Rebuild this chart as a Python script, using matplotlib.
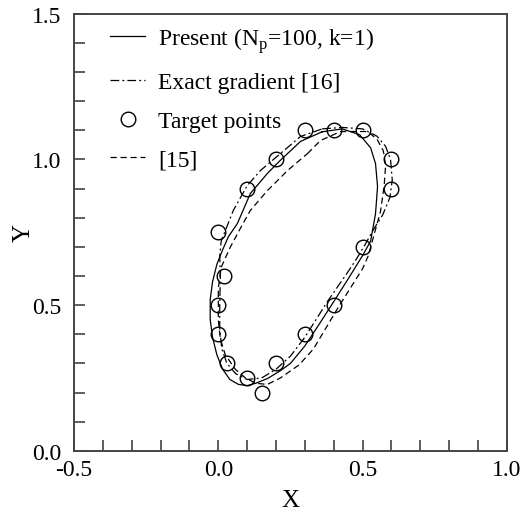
import matplotlib
matplotlib.use("Agg")
import matplotlib.pyplot as plt
from matplotlib.ticker import MultipleLocator, FormatStrFormatter

plt.rcParams['font.family'] = ['Liberation Serif', 'DejaVu Serif']
plt.rcParams['mathtext.fontset'] = 'custom'
plt.rcParams['mathtext.rm'] = 'Liberation Serif'
plt.rcParams['axes.unicode_minus'] = False

# target points
target_x = [0.3, 0.4, 0.5, 0.6, 0.6, 0.2, 0.1, 0.0, 0.02, 0.0, 0.0, 0.03, 0.1, 0.15, 0.2, 0.3, 0.4, 0.5]
target_y = [1.1, 1.1, 1.1, 1.0, 0.9, 1.0, 0.9, 0.75, 0.6, 0.5, 0.4, 0.3, 0.25, 0.2, 0.3, 0.4, 0.5, 0.7]

# present (Np=100, k=1)
present_x = [0.36, 0.43, 0.49, 0.528, 0.545, 0.552, 0.545, 0.528, 0.50, 0.45, 0.40, 0.35, 0.30, 0.25,
             0.215, 0.17, 0.13, 0.10, 0.07, 0.04, 0.015, -0.005, -0.02, -0.028, -0.028, -0.02, -0.005,
             0.015, 0.035, 0.066, 0.09, 0.111, 0.17, 0.215, 0.285, 0.36]
present_y = [1.095, 1.105, 1.085, 1.04, 0.986, 0.907, 0.814, 0.72, 0.67, 0.59, 0.512, 0.435, 0.36, 0.30,
             0.275, 0.248, 0.232, 0.224, 0.228, 0.245, 0.28, 0.33, 0.39, 0.45, 0.52, 0.58, 0.64,
             0.69, 0.735, 0.78, 0.835, 0.883, 0.952, 0.997, 1.062, 1.095]

# exact gradient [16]
exact_x = [0.36, 0.43, 0.50, 0.55, 0.58, 0.597, 0.603, 0.595, 0.57, 0.538, 0.51, 0.48, 0.45, 0.38, 0.30,
           0.25, 0.20, 0.15, 0.10, 0.06, 0.03, 0.012, 0.005, 0.005, 0.007, 0.005, 0.01, 0.052, 0.10,
           0.146, 0.215, 0.285, 0.36]
exact_y = [1.105, 1.11, 1.105, 1.08, 1.045, 1.0, 0.93, 0.87, 0.81, 0.76, 0.71, 0.66, 0.615, 0.515, 0.39,
           0.325, 0.28, 0.25, 0.245, 0.265, 0.30, 0.35, 0.42, 0.50, 0.60, 0.67, 0.72, 0.825, 0.91,
           0.962, 1.02, 1.079, 1.105]

# ref [15]
ref_x = [0.309, 0.354, 0.424, 0.517, 0.55, 0.572, 0.58, 0.575, 0.562, 0.545, 0.52, 0.50, 0.413, 0.33,
         0.28, 0.215, 0.17, 0.13, 0.094, 0.059, 0.024, 0.007, 0.0, 0.0, 0.01, 0.042, 0.08, 0.111, 0.17,
         0.24, 0.285, 0.309]
ref_y = [1.02, 1.065, 1.096, 1.096, 1.07, 1.03, 0.98, 0.91, 0.82, 0.76, 0.67, 0.625, 0.488, 0.35,
         0.295, 0.25, 0.228, 0.232, 0.25, 0.28, 0.33, 0.385, 0.45, 0.557, 0.63, 0.70, 0.77, 0.825, 0.893,
         0.962, 1.0, 1.02]

fig = plt.figure(figsize=(5.29, 5.10), dpi=100)
ax = fig.add_axes([0.14, 0.114, 0.818, 0.857])

ax.plot(present_x, present_y, 'k-', lw=0.9, label='Present (N$_{\\mathrm{p}}$=100, k=1)')
ax.plot(exact_x, exact_y, 'k', lw=0.9, dashes=(7, 2.5, 1.5, 2.5), label='Exact gradient [16]')
ax.plot(target_x, target_y, 'o', mfc='none', mec='k', ms=10.5, mew=1.0, ls='none', label='Target points')
ax.plot(ref_x, ref_y, 'k', lw=0.9, dashes=(5, 3), label='[15]')

ax.set_xlim(-0.5, 1.0)
ax.set_ylim(0.0, 1.5)
ax.xaxis.set_major_locator(MultipleLocator(0.5))
ax.yaxis.set_major_locator(MultipleLocator(0.5))
ax.xaxis.set_minor_locator(MultipleLocator(0.1))
ax.yaxis.set_minor_locator(MultipleLocator(0.1))
ax.xaxis.set_major_formatter(FormatStrFormatter('%.1f'))
ax.yaxis.set_major_formatter(FormatStrFormatter('%.1f'))
ax.tick_params(which='both', direction='in', length=8, width=1.1, top=False, right=False,
               labelsize=17, color='#333333')
ax.tick_params(axis='y', which='major', pad=9)
ax.tick_params(axis='x', which='major', pad=6)
for s in ax.spines.values():
    s.set_linewidth(1.4)
    s.set_color('#444444')

ax.set_xlabel('X', fontsize=18, labelpad=6)
ax.set_ylabel('Y', fontsize=18, labelpad=-2)

ax.legend(loc='upper left', bbox_to_anchor=(0.083, 0.974), frameon=False, fontsize=17,
          handlelength=1.5, handletextpad=0.55, labelspacing=0.72, borderpad=0, borderaxespad=0)

fig.savefig('out.png', dpi=100)
